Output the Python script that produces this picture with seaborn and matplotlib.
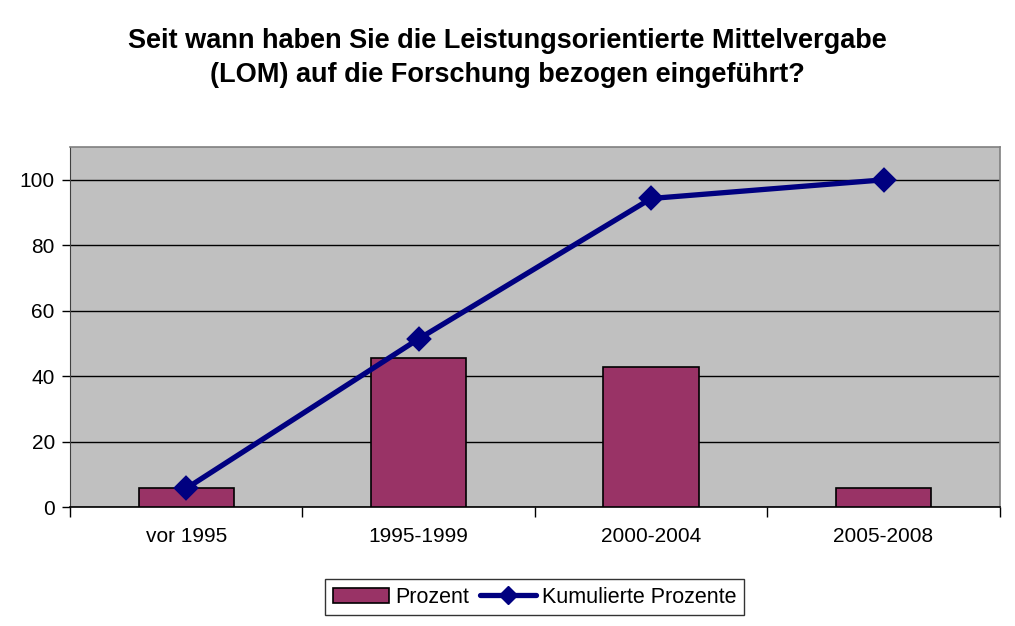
import matplotlib
matplotlib.use("Agg")
import matplotlib.pyplot as plt
from matplotlib.patches import Patch
from matplotlib.lines import Line2D
from matplotlib.ticker import FixedLocator
import seaborn as sns

# data
zeitraum = ["vor 1995", "1995-1999", "2000-2004", "2005-2008"]
prozent = [5.7, 45.7, 42.9, 5.7]
kumuliert = [5.7, 51.4, 94.3, 100.0]

title = "Seit wann haben Sie die Leistungsorientierte Mittelvergabe\n(LOM) auf die Forschung bezogen eingeführt?"

sns.set_style("white")
plt.rcParams['font.family'] = ['Liberation Sans', 'DejaVu Sans']
plt.rcParams['text.color'] = 'black'
plt.rcParams['xtick.labelcolor'] = 'black'
plt.rcParams['ytick.labelcolor'] = 'black'

bar_col = "#993366"
line_col = "#000080"

fig = plt.figure(figsize=(10.15, 6.26), dpi=100)
ax = fig.add_axes([0.069, 0.190, 0.916, 0.575])
ax.set_facecolor("#C0C0C0")

sns.barplot(x=zeitraum, y=prozent, color=bar_col, edgecolor="black",
            linewidth=1.2, width=0.41, saturation=1, ax=ax, zorder=3)
sns.pointplot(x=zeitraum, y=kumuliert, color=line_col, marker="D",
              markersize=10, linewidth=3.8, ax=ax, zorder=4)

ax.set_ylim(0, 110)
ax.set_xlim(-0.5, 3.5)
ax.set_yticks([0, 20, 40, 60, 80, 100])
ax.yaxis.grid(True, color="black", linewidth=1)
ax.set_axisbelow(True)

# ticks between categories, like the original
ax.xaxis.set_minor_locator(FixedLocator([-0.5, 0.5, 1.5, 2.5, 3.5]))
ax.tick_params(axis="x", which="major", length=0, labelsize=15, pad=14)
ax.tick_params(axis="x", which="minor", length=7, width=1, color="black",
               direction="out", bottom=True)
ax.tick_params(axis="y", length=6, width=1, color="black", direction="out",
               left=True, labelsize=15, pad=5)
ax.set_xlabel("")
ax.set_ylabel("")

for side in ["top", "right"]:
    ax.spines[side].set_color("#808080")
    ax.spines[side].set_linewidth(1.2)
ax.spines["left"].set_color("#404040")
ax.spines["bottom"].set_color("black")
ax.spines["bottom"].set_linewidth(1.2)

fig.text(0.5, 0.907, title, ha="center", va="center", fontsize=19.5,
         fontweight="bold", linespacing=1.42, color="black")

handles = [Patch(facecolor=bar_col, edgecolor="black", linewidth=1.2),
           Line2D([0], [0], color=line_col, linewidth=3.8, marker="D",
                  markersize=9)]
leg = fig.legend(handles, ["Prozent", "Kumulierte Prozente"], loc="center",
                 bbox_to_anchor=(0.527, 0.046), ncol=2, fontsize=15.5,
                 frameon=True, fancybox=False, edgecolor="black",
                 handlelength=2.6, handletextpad=0.3, columnspacing=0.5,
                 borderpad=0.35)
leg.get_frame().set_linewidth(1)

fig.savefig("out.png", dpi=100, facecolor="white")
